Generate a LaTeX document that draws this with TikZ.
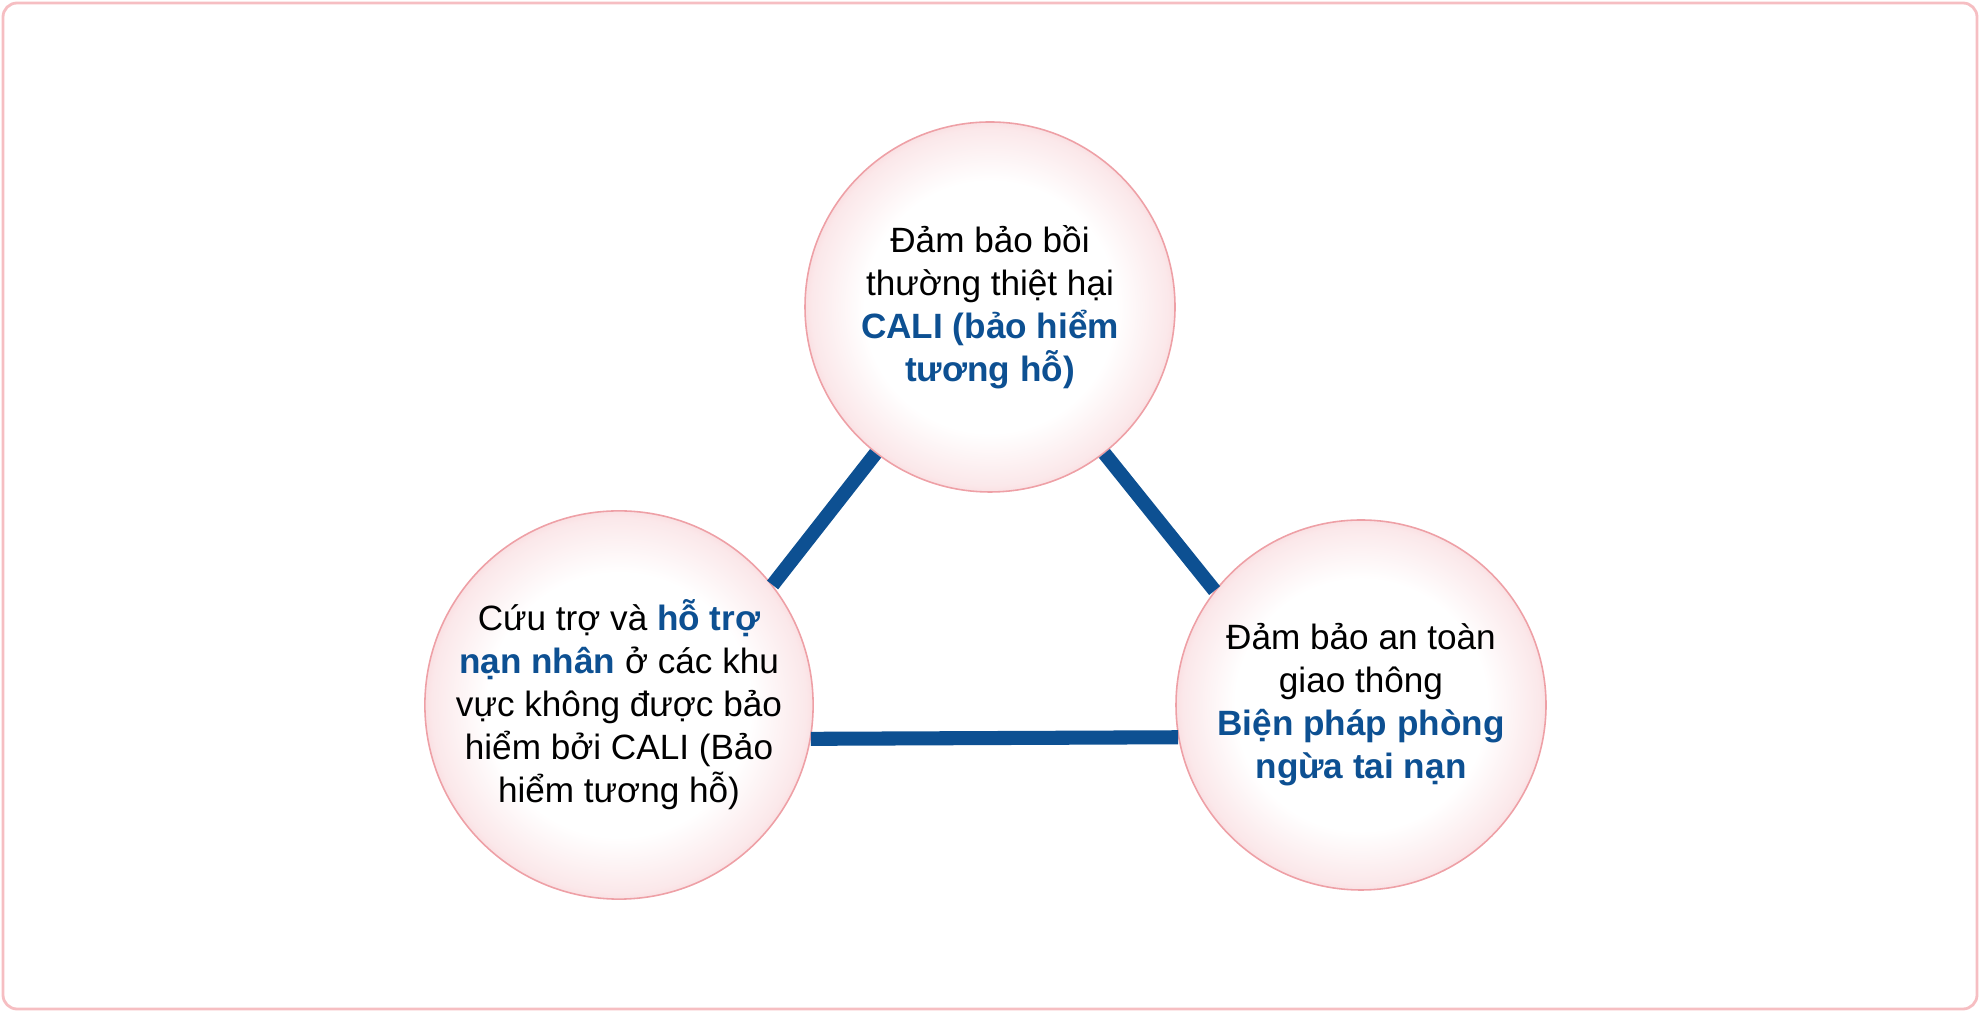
\documentclass[tikz,border=0pt]{standalone}
\usepackage{fontspec}
\setmainfont{Liberation Sans}
\usetikzlibrary{positioning}

\definecolor{framepink}{RGB}{246,190,194}
\definecolor{rimpink}{RGB}{238,160,166}
\definecolor{linkblue}{RGB}{13,80,146}
\pgfdeclareradialshading{ballshade}{\pgfpoint{0cm}{0cm}}{%
	color(0cm)=(white); color(0.6cm)=(white); color(0.85cm)=(rgb,255:red,251;green,232;blue,234);
	color(1cm)=(rgb,255:red,246;green,196;blue,201)}

\tikzset{
	ball/.style={circle, minimum size=7.4cm, inner sep=0pt, draw=rimpink, line width=0.9pt,
		shading=ballshade, align=center,
		font=\fontsize{20}{24.5}\selectfont},
	link/.style={linkblue, line width=8pt}
}
\newcommand{\hlt}[1]{{\bfseries\color{linkblue}#1}}

\begin{document}
\begin{tikzpicture}
	\useasboundingbox (0,0) rectangle (39.6,20.24);
	\draw[framepink, line width=1.6pt, rounded corners=8pt] (0.06,0.06) rectangle (39.54,20.18);

	\node[ball] (comp) at (19.8,14.1) {Đảm bảo bồi\\thường thiệt hại\\\hlt{CALI (bảo hiểm}\\\hlt{tương hỗ)}};
	\node[ball] (relief) at (12.38,6.14) {Cứu trợ và \hlt{hỗ trợ}\\\hlt{nạn nhân} ở các khu\\vực không được bảo\\hiểm bởi CALI (Bảo\\hiểm tương hỗ)};
	\node[ball] (safety) at (27.22,6.14) {Đảm bảo an toàn\\giao thông\\\hlt{Biện pháp phòng}\\\hlt{ngừa tai nạn}};

	\draw[link] (relief.38) -- (comp.232);
	\draw[link] (comp.308) -- (safety.142);
	\draw[link] (relief.350) -- (safety.190);
\end{tikzpicture}
\end{document}
